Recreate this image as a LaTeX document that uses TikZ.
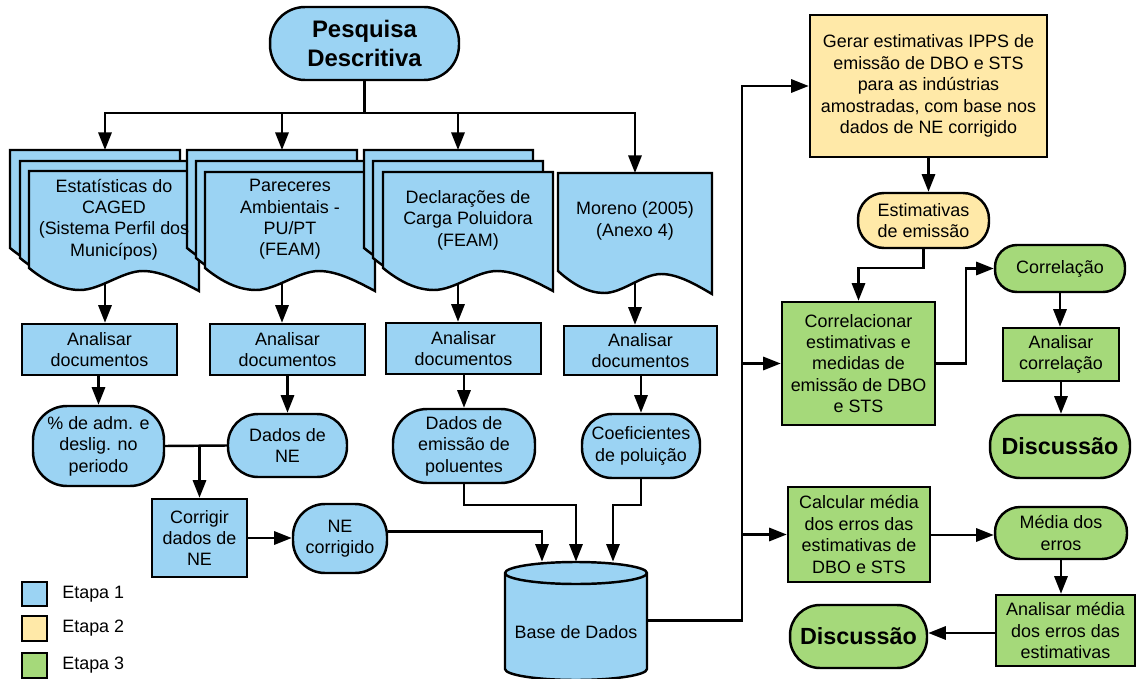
\documentclass[tikz,border=0pt]{standalone}
\usepackage{fontspec}
\setmainfont{Liberation Sans}
\usetikzlibrary{arrows.meta,calc}
\definecolor{cblue}{HTML}{9BD3F3}
\definecolor{cyel}{HTML}{FFE9A8}
\definecolor{cgreen}{HTML}{A5D97A}
\pgfdeclarelayer{bg}
\pgfsetlayers{bg,main}
\newcommand{\mydocsheet}[4]{%
  \draw[docsty] (#1,#2) -- (#3,#2) -- (#3,{#4+23})
    .. controls ({#1+0.9*(#3-#1)},{#4+14}) and ({#1+0.78*(#3-#1)},{#4+3}) .. ({#1+0.67*(#3-#1)},{#4+3})
    .. controls ({#1+0.55*(#3-#1)},{#4+3}) and ({#1+0.42*(#3-#1)},{#4+22}) .. ({#1+0.3*(#3-#1)},{#4+22})
    .. controls ({#1+0.2*(#3-#1)},{#4+22}) and ({#1+0.1*(#3-#1)},{#4+14}) .. (#1,#4) -- cycle;}
\begin{document}
\begin{tikzpicture}[x=0.02cm,y=-0.02cm,
  shp/.style={draw=black, line width=1.4pt, inner sep=0pt, align=center, font=\fontsize{10.2}{12.2}\selectfont},
  fb/.style={fill=cblue}, fy/.style={fill=cyel}, fg/.style={fill=cgreen},
  docsty/.style={draw=black, line width=1.4pt, fill=cblue, line join=miter},
  txt/.style={inner sep=0pt, align=center, font=\fontsize{10.2}{12.2}\selectfont},
  bigf/.style={font=\bfseries\fontsize{13.6}{16.4}\selectfont},
  sz/.style 2 args={minimum width=#1, minimum height=#2},
  arr/.style={line width=1.4pt, -{Triangle[length=10pt,width=7.5pt]}},
  ln/.style={line width=1.4pt}
]
\useasboundingbox (0,0) rectangle (1136,679);

% ---------- Stage 1 ----------
\node[shp, fb, rounded corners=0.7cm, sz={3.78cm}{1.46cm}, bigf] (pesq) at (364.5,43.5) {Pesquisa\\Descritiva};

% documents
\mydocsheet{10}{150}{180}{248}
\mydocsheet{20}{161}{190}{258}
\mydocsheet{29}{171}{199}{268}
\mydocsheet{187}{150}{357}{248}
\mydocsheet{196}{161}{366}{258}
\mydocsheet{205}{172}{375}{268}
\mydocsheet{364}{150}{533}{248}
\mydocsheet{373}{161}{543}{258}
\mydocsheet{383}{172}{553}{268}
\mydocsheet{558}{173}{712}{271}

\node[txt] (d1) at (114,219.5) {Estatísticas do\\CAGED\\(Sistema Perfil dos\\Municípos)};
\node[txt] (d2) at (290,219.5) {Pareceres\\Ambientais -\\PU/PT\\(FEAM)};
\node[txt] (d3) at (468,220) {Declarações de\\Carga Poluidora\\(FEAM)};
\node[txt] (d4) at (635,221) {Moreno (2005)\\(Anexo 4)};

\coordinate (bus) at (364.5,113);
\coordinate (d1t) at (105,150);
\coordinate (d2t) at (282,150);
\coordinate (d3t) at (458,150);
\coordinate (d4t) at (635,173);
\coordinate (d1b) at (105,270);
\coordinate (d2b) at (282,270);
\coordinate (d3b) at (458,270);
\coordinate (d4b) at (635,275);

\node[shp, fb, sz={3.10cm}{1.02cm}] (a1) at (99.5,349.5) {Analisar\\documentos};
\node[shp, fb, sz={3.10cm}{1.02cm}] (a2) at (287.5,349.5) {Analisar\\documentos};
\node[shp, fb, sz={3.10cm}{1.02cm}] (a3) at (463.5,348.5) {Analisar\\documentos};
\node[shp, fb, sz={3.06cm}{0.98cm}] (a4) at (640.5,350.5) {Analisar\\documentos};

\node[shp, fb, rounded corners=0.68cm, sz={2.62cm}{1.60cm}] (pct) at (98.5,446) {\% de adm. e\\deslig. no\\periodo};
\node[shp, fb, rounded corners=0.6cm, sz={2.38cm}{1.26cm}] (dne) at (287.5,445.5) {Dados de\\NE};
\node[shp, fb, sz={1.90cm}{1.56cm}] (corr) at (199.5,538) {Corrigir\\dados de\\NE};
\node[shp, fb, rounded corners=0.64cm, sz={1.88cm}{1.38cm}] (necorr) at (340,538.5) {NE\\corrigido};
\node[shp, fb, rounded corners=0.68cm, sz={2.84cm}{1.48cm}] (dem) at (464,446) {Dados de\\emissão de\\poluentes};
\node[shp, fb, rounded corners=0.6cm, sz={2.36cm}{1.28cm}] (coef) at (641,446) {Coeficientes\\de poluição};

% database cylinder
\draw[line width=1.4pt, fill=cblue] (505,573) -- (505,669)
  .. controls (505,675) and (537,680) .. (576,680)
  .. controls (615,680) and (647,675) .. (647,669)
  -- (647,573)
  .. controls (647,567) and (615,562) .. (576,562)
  .. controls (537,562) and (505,567) .. (505,573) -- cycle;
\draw[line width=1.4pt] (505,573) .. controls (505,579) and (537,584) .. (576,584)
  .. controls (615,584) and (647,579) .. (647,573);
\node[txt, sz={2.84cm}{2.34cm}] (base) at (576,620.5) {};
\node[txt] (basetxt) at (576,632) {Base de Dados};

% connectors stage 1
\draw[ln] (pesq.south) -- (bus);
\draw[arr] (bus) -| (d1t);
\draw[arr] (bus) -| (d2t);
\draw[arr] (bus) -| (d3t);
\draw[arr] (bus) -| (d4t);
\begin{pgfonlayer}{bg}
\draw[arr] (d1b) -- (d1b |- a1.north);
\draw[arr] (d2b) -- (d2b |- a2.north);
\draw[arr] (d3b) -- (d3b |- a3.north);
\draw[arr] (d4b) -- (d4b |- a4.north);
\end{pgfonlayer}
\draw[arr] (a1.south -| pct.north) -- (pct.north);
\draw[arr] (a2.south) -- (dne.north);
\draw[arr] (a3.south -| dem.north) -- (dem.north);
\draw[arr] (a4.south -| coef.north) -- (coef.north);
\draw[ln] (pct.east) -- (dne.west);
\draw[arr] (pct.east -| corr.north) -- (corr.north);
\draw[arr] (corr.east) -- (corr.east -| necorr.west);
\draw[arr] ($(necorr.east)+(0,-7)$) -| ($(base.north)+(-34,0)$);
\draw[arr] (dem.south) -- ++(0,21) -| (base.north);
\draw[arr] (coef.south) -- ++(0,26) -| ($(base.north)+(37,0)$);

% ---------- Stage 2 / 3 ----------
\node[shp, fy, sz={4.74cm}{2.84cm}] (gerar) at (928.5,86) {Gerar estimativas IPPS de\\emissão de DBO e STS\\para as indústrias\\amostradas, com base nos\\dados de NE corrigido};
\node[shp, fy, rounded corners=0.52cm, sz={2.62cm}{1.10cm}] (est) at (923.5,220.5) {Estimativas\\de emissão};
\node[shp, fg, sz={3.06cm}{2.46cm}] (corl) at (858.5,363.5) {Correlacionar\\estimativas e\\medidas de\\emissão de DBO\\e STS};
\node[shp, fg, rounded corners=0.44cm, sz={2.60cm}{0.94cm}] (correl) at (1060,268.5) {Correlação};
\node[shp, fg, sz={2.32cm}{1.06cm}] (anc) at (1061,354.5) {Analisar\\correlação};
\node[shp, fg, rounded corners=0.6cm, sz={2.80cm}{1.26cm}, font=\bfseries\fontsize{13.3}{16}\selectfont] (disc1) at (1060,446.5) {Discussão};
\node[shp, fg, sz={2.84cm}{1.90cm}] (calc) at (859,534.5) {Calcular média\\dos erros das\\estimativas de\\DBO e STS};
\node[shp, fg, rounded corners=0.5cm, sz={2.64cm}{1.04cm}] (media) at (1061,533) {Média dos\\erros};
\node[shp, fg, sz={2.78cm}{1.42cm}] (anm) at (1065.5,630.5) {Analisar média\\dos erros das\\estimativas};
\node[shp, fg, rounded corners=0.6cm, sz={2.74cm}{1.26cm}, font=\bfseries\fontsize{13.3}{16}\selectfont] (disc2) at (858.5,636.5) {Discussão};

\coordinate (tb) at (742,620.5);
\draw[arr] (base.east) -- (tb) |- (gerar.west);
\draw[arr] (tb |- corl.west) -- (corl.west);
\draw[arr] (tb |- calc.west) -- (calc.west);
\draw[arr] (gerar.south) -- (gerar.south |- est.north);
\draw[arr] (est.south) -- ++(0,19) -| (corl.north);
\draw[arr] (corl.east) -- ++(30,0) |- (correl.west);
\draw[arr] (correl.south) -- (correl.south |- anc.north);
\draw[arr] (anc.south) -- (anc.south |- disc1.north);
\draw[arr] ($(calc.east)+(0,0.5)$) -- ($(calc.east -| media.west)+(0,0.5)$);
\draw[arr] (media.south) -- (media.south |- anm.north);
\draw[arr] ($(anm.west)+(0,2.5)$) -- ($(anm.west -| disc2.east)+(0,2.5)$);

% ---------- Legend ----------
\node[shp, fb, sz={0.5cm}{0.48cm}] (l1) at (34.5,594) {};
\node[shp, fy, sz={0.5cm}{0.5cm}] (l2) at (34.5,628.5) {};
\node[shp, fg, sz={0.5cm}{0.5cm}] (l3) at (34.5,665.5) {};
\node[txt, anchor=west] (l1t) at (62,594) {Etapa 1};
\node[txt, anchor=west] (l2t) at (62,628.5) {Etapa 2};
\node[txt, anchor=west] (l3t) at (62,665.5) {Etapa 3};
\end{tikzpicture}
\end{document}
